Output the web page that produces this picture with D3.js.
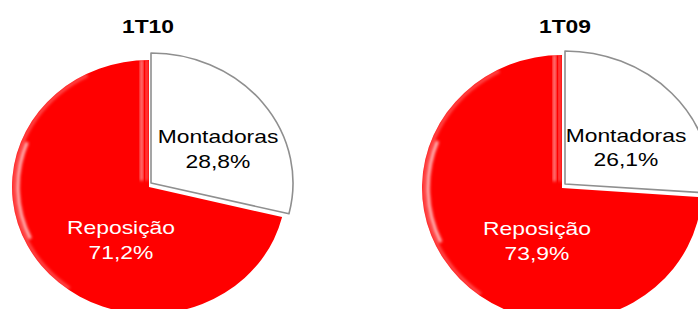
<!DOCTYPE html>
<html>
<head>
<meta charset="utf-8">
<script src="https://cdn.jsdelivr.net/npm/d3@7"></script>
<style>
  html, body { margin: 0; padding: 0; background: #fff; }
  svg { display: block; }
  text { font-family: Arial, "Liberation Sans", sans-serif; }
</style>
</head>
<body>
<div id="chart"></div>
<script>
// ---- data ----
const periods = ["1T10", "1T09"];
const categories = ["Montadoras", "Reposição"];
const montadoras = [28.8, 26.1];
const reposicao = [71.2, 73.9];

// ---- layout (geometry only) ----
const W = 698, H = 309;
const layout = [
  { title: [148, 33],
    red: { cx: 149, cy: 187, rx: 137, ry: 127 },
    white: { cx: 151, cy: 183, rx: 142, ry: 130 },
    labW: [218, 143, 168], labR: [121, 234, 259] },
  { title: [565, 33],
    red: { cx: 562, cy: 188, rx: 140, ry: 133 },
    white: { cx: 565, cy: 184, rx: 146, ry: 133 },
    labW: [626, 142, 166], labR: [537, 235, 260] }
];
const R = 100;
const STRETCH = 1.27;

const svg = d3.select("#chart").append("svg")
  .attr("width", W).attr("height", H);

const defs = svg.append("defs");
const blur = defs.append("filter").attr("id", "blur")
  .attr("x", "-20%").attr("y", "-20%").attr("width", "140%").attr("height", "140%");
blur.append("feGaussianBlur").attr("stdDeviation", 1.2);

const pie = d3.pie().sort(null).startAngle(0).endAngle(2 * Math.PI);
const arc = d3.arc().innerRadius(0).outerRadius(R);
const fmt = v => d3.format(".1f")(v).replace(".", ",") + "%";

periods.forEach((p, i) => {
  const L = layout[i];
  const arcs = pie([montadoras[i], reposicao[i]]);
  const g = svg.append("g");

  // Reposição (red)
  const red = L.red;
  const tr = `translate(${red.cx},${red.cy}) scale(${red.rx / R},${red.ry / R})`;
  const clipId = "clipR" + i;
  defs.append("clipPath").attr("id", clipId)
    .append("path").attr("d", arc(arcs[1])).attr("transform", tr);
  g.append("g").attr("transform", tr)
    .append("path").attr("d", arc(arcs[1])).attr("fill", "#ff0000");

  // gloss highlights
  const hlIn = g.append("g").attr("clip-path", `url(#${clipId})`)
    .append("g").attr("transform", tr);
  hlIn.append("path")
    .attr("d", d3.arc().innerRadius(R * 0.945).outerRadius(R * 0.97)
      .startAngle(Math.PI * 1.36).endAngle(Math.PI * 1.62)())
    .attr("fill", "#fff").attr("opacity", 0.75).attr("filter", "url(#blur)");
  hlIn.append("path")
    .attr("d", d3.arc().innerRadius(R * 0.975).outerRadius(R * 1.0)
      .startAngle(Math.PI * 1.2).endAngle(Math.PI * 1.85)())
    .attr("fill", "#fff").attr("opacity", 0.3).attr("filter", "url(#blur)");
  // highlight near the vertical straight edge
  hlIn.append("rect")
    .attr("x", -6.5).attr("y", -R).attr("width", 2.2).attr("height", R * 0.95)
    .attr("fill", "#fff").attr("opacity", 0.55).attr("filter", "url(#blur)");
  hlIn.append("rect")
    .attr("x", -2.5).attr("y", -R).attr("width", 1.5).attr("height", R * 0.95)
    .attr("fill", "#fff").attr("opacity", 0.4).attr("filter", "url(#blur)");

  // Montadoras (white)
  const wh = L.white;
  g.append("g")
    .attr("transform", `translate(${wh.cx},${wh.cy}) scale(${wh.rx / R},${wh.ry / R})`)
    .append("path").attr("d", arc(arcs[0]))
    .attr("fill", "#ffffff")
    .attr("stroke", "#8f8f8f")
    .attr("stroke-width", 1.6)
    .attr("stroke-linejoin", "round")
    .attr("vector-effect", "non-scaling-stroke");

  // title
  svg.append("text")
    .attr("transform", `translate(${L.title[0]},${L.title[1]}) scale(${STRETCH},1)`)
    .attr("text-anchor", "middle")
    .attr("font-size", 18).attr("font-weight", "bold").attr("fill", "#000")
    .text(p);

  // labels
  const addLabel = (x, y, txt, color) => svg.append("text")
    .attr("transform", `translate(${x},${y}) scale(${STRETCH},1)`)
    .attr("text-anchor", "middle")
    .attr("font-size", 18).attr("fill", color)
    .text(txt);

  addLabel(L.labW[0], L.labW[1], categories[0], "#000");
  addLabel(L.labW[0], L.labW[2], fmt(montadoras[i]), "#000");
  addLabel(L.labR[0], L.labR[1], categories[1], "#fff");
  addLabel(L.labR[0], L.labR[2], fmt(reposicao[i]), "#fff");
});
</script>
</body>
</html>
